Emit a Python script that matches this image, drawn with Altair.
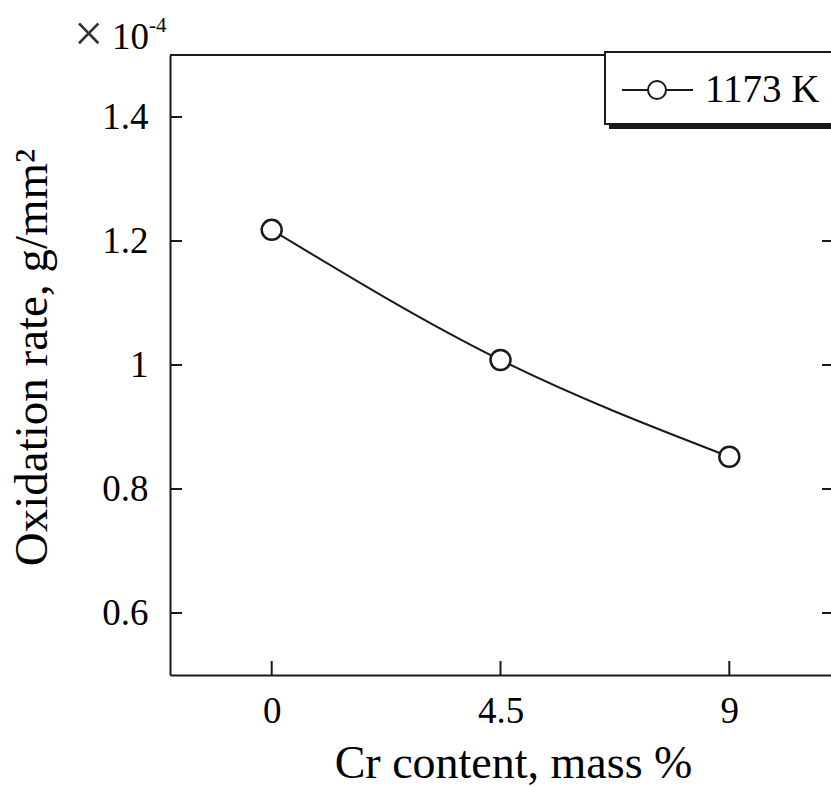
import altair as alt
import pandas as pd

# ---- data ----
cr_content = [0, 4.5, 9]
oxidation_rate = [1.218, 1.008, 0.852]
series_name = "1173 K"
x_ticks = [0, 4.5, 9]
y_ticks = [0.6, 0.8, 1.0, 1.2, 1.4]
x_domain = [-2, 11]
y_domain = [0.5, 1.5]
x_title = "Cr content, mass %"
y_title = "Oxidation rate, g/mm²"
mult_sign = "×"
exp_base = "10"
exp_power = "-4"

W, H = 661, 620
FONT = "Liberation Serif"
INK = "#1a1a1a"

df = pd.DataFrame({"cr": cr_content, "rate": oxidation_rate, "series": series_name})
xt = pd.DataFrame({"cr": x_ticks})
yt = pd.DataFrame({"rate": y_ticks})
one = pd.DataFrame({"series": [series_name], "a": [mult_sign], "b": [exp_base], "c": [exp_power]})

x_scale = alt.Scale(domain=x_domain, nice=False, zero=False)
y_scale = alt.Scale(domain=y_domain, nice=False, zero=False)

x_axis = alt.Axis(
    values=x_ticks, format=".1~f", title=x_title, grid=False, ticks=False, tickSize=0,
    domain=True, domainColor=INK, domainWidth=2,
    labelFont=FONT, labelFontSize=37, labelPadding=18, labelColor="black", labelFlush=False,
    titleFont=FONT, titleFontSize=46, titleFontWeight="normal", titleColor="black",
    titleX=343, titleY=102, titleBaseline="alphabetic", titleAlign="center",
)
y_axis = alt.Axis(
    values=y_ticks, format=".1~f", title=y_title, grid=False, ticks=False, tickSize=0,
    domain=True, domainColor=INK, domainWidth=2,
    labelFont=FONT, labelFontSize=37, labelPadding=22, labelColor="black", labelFlush=False,
    titleFont=FONT, titleFontSize=47, titleFontWeight="normal", titleColor="black",
    titleX=-124, titleY=302, titleAngle=270, titleBaseline="alphabetic", titleAlign="center",
)

X = alt.X("cr:Q", scale=x_scale, axis=x_axis)
Y = alt.Y("rate:Q", scale=y_scale, axis=y_axis)

line = alt.Chart(df).mark_line(interpolate="monotone", color=INK, strokeWidth=2).encode(x=X, y=Y)
points = alt.Chart(df).mark_point(
    shape="circle", filled=True, fill="white", stroke=INK, strokeWidth=2.5, size=400, opacity=1
).encode(x=X, y=Y)

left_ticks = alt.Chart(yt).mark_rule(color=INK, strokeWidth=2).encode(
    y=Y, x=alt.value(0), x2=alt.value(12))
right_ticks = alt.Chart(yt).mark_rule(color=INK, strokeWidth=2).encode(
    y=Y, x=alt.value(652), x2=alt.value(W))
bottom_ticks = alt.Chart(xt).mark_rule(color=INK, strokeWidth=2).encode(
    x=X, y=alt.value(H - 14), y2=alt.value(H))
top_line = alt.Chart(one).mark_rule(color=INK, strokeWidth=2).encode(
    x=alt.value(0), x2=alt.value(W), y=alt.value(0))

# legend box with shadow
shadow = alt.Chart(one).mark_rect(color=INK).encode(
    x=alt.value(439), x2=alt.value(720), y=alt.value(1), y2=alt.value(74))
box = alt.Chart(one).mark_rect(fill="white", stroke=INK, strokeWidth=2).encode(
    x=alt.value(435), x2=alt.value(720), y=alt.value(-3), y2=alt.value(69))
leg_line = alt.Chart(one).mark_rule(color=INK, strokeWidth=2).encode(
    x=alt.value(452), x2=alt.value(523), y=alt.value(35))
leg_pt = alt.Chart(one).mark_point(
    shape="circle", filled=True, fill="white", stroke=INK, strokeWidth=2, size=324, opacity=1
).encode(x=alt.value(487), y=alt.value(35))
leg_text = alt.Chart(one).mark_text(
    align="left", baseline="alphabetic", font=FONT, fontSize=39, color="black"
).encode(x=alt.value(535), y=alt.value(47), text="series:N")

# multiplier annotation
t_mult = alt.Chart(one).mark_text(
    align="left", baseline="alphabetic", font=FONT, fontSize=52, color="#333333"
).encode(x=alt.value(-96), y=alt.value(-4), text="a:N")
t_base = alt.Chart(one).mark_text(
    align="left", baseline="alphabetic", font=FONT, fontSize=37, color="black"
).encode(x=alt.value(-58), y=alt.value(-6), text="b:N")
t_pow = alt.Chart(one).mark_text(
    align="left", baseline="alphabetic", font=FONT, fontSize=21, color="black"
).encode(x=alt.value(-21), y=alt.value(-23), text="c:N")

chart = alt.layer(
    left_ticks, right_ticks, bottom_ticks, line, points, top_line,
    shadow, box, leg_line, leg_pt, leg_text, t_mult, t_base, t_pow,
).properties(
    width=W, height=H,
    autosize=alt.AutoSizeParams(type="none"),
    padding={"left": 170, "top": 55, "right": 0, "bottom": 112},
    background="white",
).configure(font=FONT).configure_view(stroke=None)

chart.save("out.html", embed_options={"renderer": "svg", "actions": False})
